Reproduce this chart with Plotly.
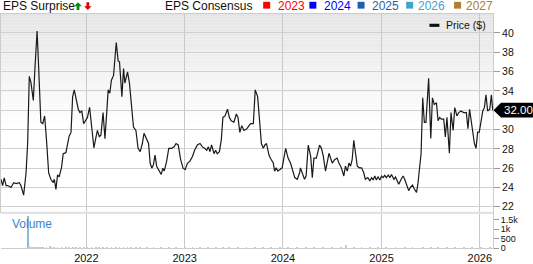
import plotly.graph_objects as go
import pandas as pd

# ---------------- data ----------------
# price: days counted from 1 Jan 2022, and closing price ($)
price_days = [
    -317, -311, -305, -298, -292, -280, -270, -261, -249, -243, -233, -224, -218, -212, -206, -197,
    -191, -183, -177, -169, -162, -155, -148, -140, -132, -123, -119, -113, -107, -101, -92, -86,
    -76, -70, -64, -57, -51, -45, -38, -30, -24, -17, -10, -2, 4, 12, 19, 28, 35, 41, 48, 54, 62,
    69, 76, 81, 87, 93, 101, 111, 118, 123, 132, 138, 143, 153, 160, 167, 175, 184, 192, 200, 208,
    214, 224, 231, 237, 243, 249, 255, 261, 270, 278, 284, 289, 298, 306, 316, 326, 333, 341, 350,
    359, 367, 375, 384, 394, 402, 412, 422, 431, 439, 447, 453, 459, 465, 474, 480, 486, 494, 501,
    507, 515, 524, 531, 538, 548, 557, 563, 570, 577, 585, 595, 604, 610, 620, 627, 636, 641, 650,
    657, 663, 669, 678, 684, 687, 694, 699, 705, 711, 719, 727, 740, 749, 758, 767, 774, 783, 792,
    795, 804, 810, 816, 824, 833, 839, 845, 854, 860, 866, 873, 880, 888, 894, 901, 907, 913, 922,
    931, 938, 947, 956, 962, 969, 975, 981, 987, 993, 999, 1006, 1014, 1022, 1030, 1036, 1045, 1053,
    1059, 1065, 1071, 1077, 1083, 1090, 1096, 1102, 1108, 1114, 1121, 1127, 1133, 1142, 1148, 1154,
    1160, 1169, 1176, 1182, 1191, 1197, 1203, 1211, 1218, 1226, 1231, 1237, 1243, 1249, 1255, 1261,
    1268, 1271, 1279, 1285, 1292, 1300, 1306, 1312, 1318, 1327, 1333, 1339, 1348, 1354, 1362, 1368,
    1376, 1383, 1391, 1401, 1411, 1417, 1423, 1432, 1441, 1447, 1453, 1459, 1465, 1472, 1478, 1484,
    1490, 1498, 1504, 1509,
]
prices = [
    24.85, 24.2, 25.0, 24.2, 24.2, 24.0, 24.5, 24.4, 24.5, 24.2, 23.2, 25.5, 28.6, 35.5, 34.9, 33.0,
    36.3, 40.2, 36.3, 30.75, 30.6, 31.4, 28.9, 25.5, 24.85, 24.5, 24.85, 23.8, 25.3, 25.1, 26.1, 27.5,
    27.6, 28.5, 29.3, 29.7, 33.4, 34.1, 33.1, 32.1, 31.75, 31.9, 30.6, 30.9, 31.25, 32.3, 30.3, 28.1,
    29.1, 29.9, 29.25, 29.4, 31.75, 29.05, 31.9, 34.1, 33.75, 35.1, 35.6, 39.0, 37.1, 37.0, 33.4, 36.3,
    34.8, 35.95, 34.8, 32.6, 30.25, 29.9, 28.05, 27.7, 28.55, 29.6, 29.05, 28.55, 26.5, 26.0, 26.35,
    27.35, 26.2, 25.7, 25.35, 26.0, 25.7, 26.7, 28.05, 28.05, 28.2, 28.55, 28.4, 26.9, 26.0, 25.85,
    26.5, 26.7, 27.2, 27.85, 28.4, 28.55, 28.2, 28.05, 27.85, 28.2, 27.7, 28.4, 27.5, 27.85, 27.5,
    27.7, 28.9, 31.25, 31.4, 32.1, 31.25, 30.9, 30.75, 31.6, 31.25, 29.7, 30.4, 29.9, 30.05, 30.4,
    30.6, 30.6, 34.1, 33.4, 31.9, 28.55, 28.05, 28.4, 28.55, 27.35, 27.0, 26.87, 26.53, 25.69, 26.03,
    25.69, 25.86, 26.03, 28.05, 27.04, 26.53, 25.52, 25.02, 24.85, 25.52, 26.03, 25.35, 24.85, 25.19,
    28.38, 27.21, 25.02, 27.04, 27.04, 27.71, 28.38, 28.05, 27.21, 25.69, 26.53, 27.54, 27.04, 26.53,
    26.87, 27.04, 26.53, 26.03, 25.19, 26.2, 25.69, 26.53, 26.2, 26.87, 28.89, 27.71, 26.2, 26.03,
    26.03, 25.52, 24.85, 25.02, 24.68, 25.02, 24.78, 25.19, 24.78, 25.12, 24.78, 25.19, 25.02, 25.25,
    25.02, 25.29, 25.02, 25.35, 24.85, 25.08, 24.68, 24.34, 24.85, 25.19, 24.85, 24.01, 23.67, 24.01,
    24.24, 23.84, 23.5, 24.34, 26.36, 27.54, 33.27, 30.74, 30.74, 33.27, 35.29, 29.06, 33.27, 32.59,
    32.76, 30.91, 31.25, 31.08, 31.08, 29.23, 31.25, 27.54, 31.75, 29.9, 32.26, 31.41, 31.75, 31.92,
    31.75, 31.75, 30.07, 32.09, 30.4, 28.55, 28.05, 29.73, 29.73, 30.91, 31.92, 32.26, 33.6, 31.92,
    32.09, 33.6, 32.00,
]

volume_days = [
    -218, -212, -206, -197, -191, -183, -177, -169, -162, -148, -135, -132, -119, -107, -92, -76,
    -64, -51, -38, -24, -10, 4, 19, 35, 48, 62, 76, 93, 111, 123, 138, 153, 167, 184, 200, 224,
    249, 278, 306, 333, 367, 394, 422, 453, 480, 507, 531, 563, 595, 627, 657, 687, 719, 749, 783,
    816, 845, 880, 913, 947, 965, 993, 1022, 1053, 1083, 1114, 1148, 1182, 1211, 1249, 1279, 1306,
    1339, 1368, 1401, 1432, 1465, 1498,
]
volumes = [
    1700, 90, 60, 50, 70, 80, 60, 50, 40, 60, 110, 50, 40, 50, 40, 50,
    40, 60, 50, 40, 50, 40, 50, 40, 50, 40, 60, 50, 60, 40, 50, 40, 40, 30, 30, 30,
    25, 30, 30, 25, 30, 35, 40, 35, 40, 45, 40, 40, 35, 50, 40, 30, 35, 40, 35,
    30, 35, 40, 30, 35, 150, 40, 30, 25, 25, 30, 25, 30, 25, 40, 35, 30,
    30, 35, 30, 30, 25, 30,
]

price_ticks = [22, 24, 26, 28, 30, 32, 34, 36, 38, 40]
volume_ticks = [0, 500, 1000, 1500]
volume_tick_labels = ["0", "500", "1k", "1.5k"]
consensus_years = ["2023", "2024", "2025", "2026", "2027"]
consensus_colors = ["#ff0000", "#0000ff", "#1f5fad", "#3fa3d0", "#b07e30"]

base = pd.Timestamp("2022-01-01")
price_dates = base + pd.to_timedelta(price_days, unit="D")
volume_dates = base + pd.to_timedelta(volume_days, unit="D")

# ---------------- layout geometry ----------------
W, H = 533, 264
ML, MR, MT, MB = 0, 40, 14, 10
PW, PH = W - ML - MR, H - MT - MB
PRICE_BOTTOM_PX = 216.7
VOL_TOP_PX = 219
price_dom = [(H - MB - PRICE_BOTTOM_PX) / PH, 1.0]
vol_dom = [0.0, (H - MB - VOL_TOP_PX) / PH]
price_range = [21.5, 41.95]
vol_range = [0, 1820]
x_range = [base + pd.Timedelta(days=-317), base + pd.Timedelta(days=1510)]


def px(x):
    return (x - ML) / PW


def py(y):
    return (H - MB - y) / PH


FONT = "Arial, 'Liberation Sans', sans-serif"

fig = go.Figure()
fig.add_trace(go.Scatter(
    x=price_dates, y=prices, mode="lines",
    line=dict(color="#1a1a1a", width=1.2),
    xaxis="x", yaxis="y", showlegend=False, hoverinfo="skip",
))
vol_colors = ["#8ab8e0" if v > 1000 else "#b3d0ec" for v in volumes]
fig.add_trace(go.Bar(
    x=volume_dates, y=volumes, marker=dict(color=vol_colors, line=dict(width=0)),
    width=3 * 86400000, xaxis="x2", yaxis="y2", showlegend=False, hoverinfo="skip",
))

shapes = []
# background gradient of the price panel
n = 40
top_px, end_px = MT, 130
for i in range(n):
    y0 = top_px + (end_px - top_px) * i / n
    y1 = top_px + (end_px - top_px) * (i + 1) / n
    g = int(round(229 + (255 - 229) * (i + 0.5) / n))
    shapes.append(dict(type="rect", xref="paper", yref="paper", x0=0, x1=1,
                       y0=py(y1), y1=py(y0), fillcolor=f"rgb({g},{g},{g})",
                       line=dict(width=0), layer="below"))
# separator band between panels
shapes.append(dict(type="rect", xref="paper", yref="paper", x0=0, x1=1,
                   y0=py(VOL_TOP_PX), y1=py(PRICE_BOTTOM_PX), fillcolor="#e2e2e2",
                   line=dict(width=0), layer="above"))

# last price label (arrow box)
last = prices[-1]
yl = price_dom[0] + (last - price_range[0]) / (price_range[1] - price_range[0]) * (price_dom[1] - price_dom[0])
hh = 7.5 / PH
xa, xb = px(ML + PW + 8), px(W + 5)
shapes.append(dict(type="path", xref="paper", yref="paper",
                   path=f"M {px(ML + PW + 0.5)},{yl} L {xa},{yl + hh} L {xb},{yl + hh} L {xb},{yl - hh} L {xa},{yl - hh} Z",
                   fillcolor="#000000", line=dict(width=0), layer="above"))

# price legend swatch
shapes.append(dict(type="rect", xref="paper", yref="paper", x0=px(429.3), x1=px(439.3),
                   y0=py(27.2), y1=py(24.0), fillcolor="#111111", line=dict(width=0)))

# consensus legend squares
sq_x = [262.7, 309, 357.3, 406, 454]
for sx, c in zip(sq_x, consensus_colors):
    shapes.append(dict(type="rect", xref="paper", yref="paper", x0=px(sx), x1=px(sx + 7),
                       y0=py(8.5), y1=py(1.5), fillcolor=c, line=dict(width=0)))


def arrow_path(x0, x1, ytip, ybase, up=True):
    xm = (x0 + x1) / 2
    sw = 1.4
    yneck = ytip + (4 if up else -4)
    pts = [(xm, ytip), (x1, yneck), (xm + sw, yneck), (xm + sw, ybase),
           (xm - sw, ybase), (xm - sw, yneck), (x0, yneck)]
    return "M " + " L ".join(f"{px(a)},{py(b)}" for a, b in pts) + " Z"


shapes.append(dict(type="path", xref="paper", yref="paper", path=arrow_path(73.3, 81, 2, 10, True),
                   fillcolor="#0a8a0a", line=dict(width=0)))
shapes.append(dict(type="path", xref="paper", yref="paper", path=arrow_path(83.3, 90.7, 10, 2, False),
                   fillcolor="#e00000", line=dict(width=0)))

annotations = [
    dict(text="EPS Surprise", x=px(0), y=py(5.5), xref="paper", yref="paper", xanchor="left",
         yanchor="middle", showarrow=False, font=dict(family=FONT, size=12, color="#111")),
    dict(text="EPS Consensus", x=px(162), y=py(5.5), xref="paper", yref="paper", xanchor="left",
         yanchor="middle", showarrow=False, font=dict(family=FONT, size=12, color="#111")),
    dict(text="Price ($)", x=px(443.5), y=py(25.6), xref="paper", yref="paper", xanchor="left",
         yanchor="middle", showarrow=False, font=dict(family=FONT, size=10.5, color="#111")),
    dict(text="Volume", x=px(9.5), y=py(229), xref="paper", yref="paper", xanchor="left",
         yanchor="middle", showarrow=False, font=dict(family=FONT, size=12, color="#3a86c8")),
    dict(text=f"{last:.2f}", x=px(ML + PW + 9), y=last, xref="paper", yref="y", xanchor="left",
         yanchor="middle", showarrow=False, font=dict(family=FONT, size=11.5, color="#ffffff")),
]
text_x = [276, 322, 369.7, 416, 464]
for tx, yr, c in zip(text_x, consensus_years, consensus_colors):
    annotations.append(dict(text=yr, x=px(tx), y=py(5.5), xref="paper", yref="paper",
                            xanchor="left", yanchor="middle", showarrow=False,
                            font=dict(family=FONT, size=12, color=c)))

# the tick label at the last price is hidden behind the price box
price_tick_text = ["" if t == round(last) else str(t) for t in price_ticks]

xcommon = dict(type="date", range=x_range, tick0="2022-01-01", dtick="M12",
               showgrid=True, gridcolor="#c9c9c9", gridwidth=1, zeroline=False,
               showline=True, linecolor="#cccccc", linewidth=1, mirror=True, ticks="")

fig.update_layout(
    width=W, height=H,
    margin=dict(l=ML, r=MR, t=MT, b=MB, pad=0),
    paper_bgcolor="#ffffff", plot_bgcolor="rgba(0,0,0,0)",
    showlegend=False,
    font=dict(family=FONT, size=11, color="#111"),
    xaxis=dict(**xcommon, domain=[0, 1], anchor="y", showticklabels=False, matches="x2"),
    xaxis2=dict(**xcommon, domain=[0, 1], anchor="y2", showticklabels=True, tickformat="%Y",
                tickfont=dict(family=FONT, size=11, color="#111"), ticklen=0),
    yaxis=dict(domain=price_dom, range=price_range, side="right", anchor="x",
               tickvals=price_ticks, ticktext=price_tick_text,
               showgrid=True, gridcolor="#d0d0d0", gridwidth=1, zeroline=False,
               showline=True, linecolor="#cccccc", linewidth=1, mirror=True,
               ticks="outside", ticklen=6, tickcolor="#999999",
               tickfont=dict(family=FONT, size=10.5, color="#111")),
    yaxis2=dict(domain=vol_dom, range=vol_range, side="right", anchor="x2",
                tickvals=volume_ticks, ticktext=volume_tick_labels,
                showgrid=False, zeroline=False, showline=True, linecolor="#cccccc",
                ticks="outside", ticklen=5, tickcolor="#999999",
                tickfont=dict(family=FONT, size=9, color="#111")),
    shapes=shapes, annotations=annotations, bargap=0,
)

fig.write_html("out.html")
